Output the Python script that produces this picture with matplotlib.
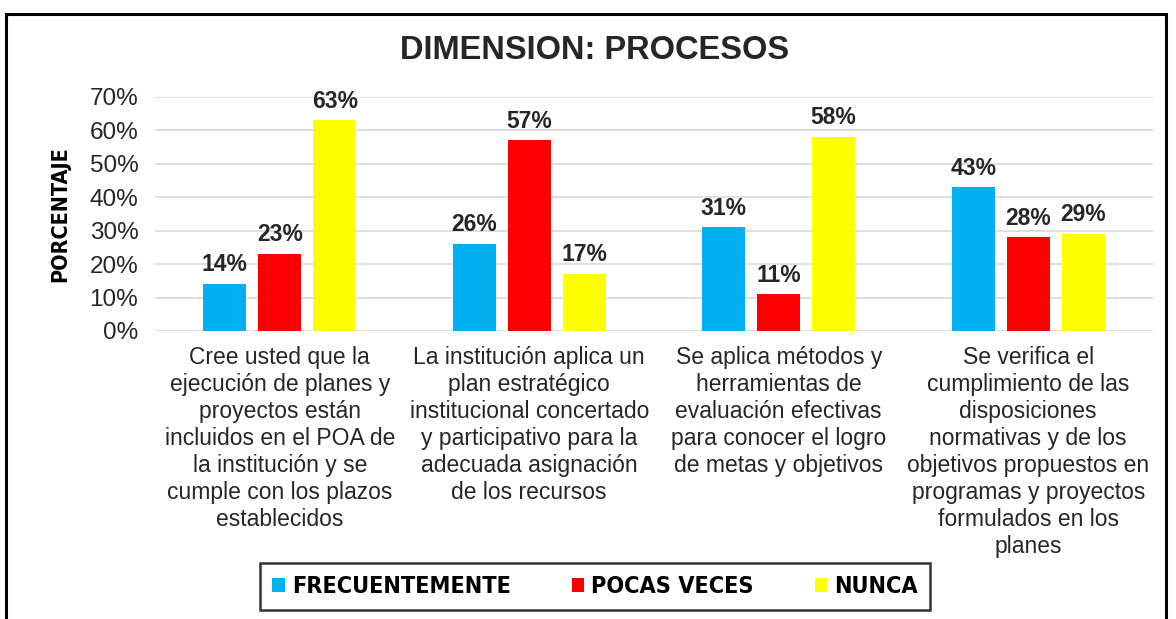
import numpy as np
import matplotlib
matplotlib.use('Agg')
import matplotlib.pyplot as plt
from matplotlib.patches import Rectangle

categories = [
    'Cree usted que la\nejecución de planes y\nproyectos están\nincluidos en el POA de\nla institución y se\ncumple con los plazos\nestablecidos',
    'La institución aplica un\nplan estratégico\ninstitucional concertado\ny participativo para la\nadecuada asignación\nde los recursos',
    'Se aplica métodos y\nherramientas de\nevaluación efectivas\npara conocer el logro\nde metas y objetivos',
    'Se verifica el\ncumplimiento de las\ndisposiciones\nnormativas y de los\nobjetivos propuestos en\nprogramas y proyectos\nformulados en los\nplanes',
]
series_names = ['FRECUENTEMENTE', 'POCAS VECES', 'NUNCA']
frecuentemente = [14, 26, 31, 43]
pocas_veces = [23, 57, 11, 28]
nunca = [63, 17, 58, 29]
colors = ['#00b0f0', '#ff0000', '#ffff00']

plt.rcParams['font.family'] = ['Liberation Sans', 'DejaVu Sans']

fig = plt.figure(figsize=(11.76, 6.19), dpi=100)
ax = fig.add_axes([0.1318, 0.4653, 0.8486, 0.378])

x = np.arange(len(categories))
w = 0.172
step = 0.22
for i, (vals, name, c) in enumerate(zip([frecuentemente, pocas_veces, nunca], series_names, colors)):
    pos = x + (i - 1) * step
    bars = ax.bar(pos, vals, width=w, color=c, label=name, zorder=3)
    for b, v in zip(bars, vals):
        ax.text(b.get_x() + b.get_width() / 2, v + 2.3, f'{v}%', ha='center', va='bottom',
                fontsize=16.5, fontweight='bold', color='#262626')

ax.set_xlim(-0.5, 3.5)
ax.set_ylim(0, 70)
ax.set_yticks(np.arange(0, 71, 10))
ax.set_yticklabels([f'{t}%' for t in range(0, 71, 10)], fontsize=17.5, color='#262626')
ax.yaxis.grid(True, color='#d9d9d9', linewidth=1.2, zorder=0)
ax.tick_params(axis='y', length=0, pad=12)
ax.tick_params(axis='x', length=0, pad=11)
ax.set_xticks(x)
ax.set_xticklabels(categories, fontsize=16.5, color='#262626', linespacing=1.22)
for s in ax.spines.values():
    s.set_visible(False)

fig.text(0.051, 0.6535, 'PORCENTAJE', rotation=90, ha='center', va='center',
         fontsize=15.5, fontweight='bold', family='DejaVu Sans', fontstretch='condensed',
         color='#000000')
fig.text(0.506, 0.918, 'DIMENSION: PROCESOS', ha='center', va='center',
         fontsize=23.5, fontweight='bold', color='#262626')

leg = fig.legend(loc='center', bbox_to_anchor=(0.506, 0.0525), ncol=3, frameon=True,
                 prop={'family': 'DejaVu Sans', 'stretch': 'condensed', 'weight': 'bold', 'size': 16.8},
                 handlelength=0.55, handleheight=0.55, handletextpad=0.3,
                 columnspacing=2.6, borderpad=0.5, fancybox=False)
leg.get_frame().set_edgecolor('black')
leg.get_frame().set_linewidth(1.8)

# outer border of the chart
fig.patches.append(Rectangle((6 / 1176, -0.05), 1160 / 1176, 1 - 14 / 619 + 0.05,
                             transform=fig.transFigure, fill=False,
                             edgecolor='black', linewidth=2.2))

fig.savefig('out.png', dpi=100)
